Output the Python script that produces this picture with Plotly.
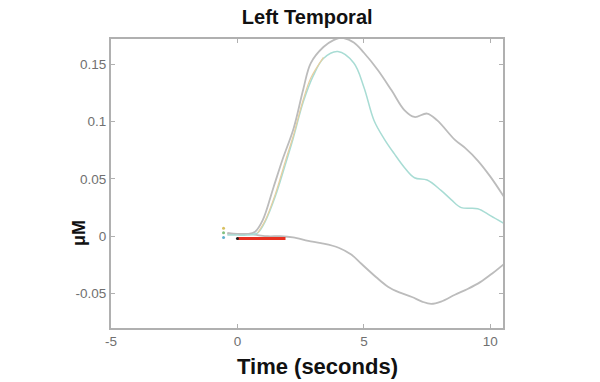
import plotly.graph_objects as go

# Upper bound (gray)
upper_t = [-0.4, 0.0, 0.4, 0.7, 1.0, 1.43, 1.8, 2.22, 2.6, 2.9, 3.4, 3.8, 4.1, 4.6, 5.0, 5.55, 6.1, 6.6, 7.0, 7.5, 7.9, 8.6, 9.0, 9.5, 10.0, 10.55]
upper_v = [0.003, 0.002, 0.002, 0.004, 0.014, 0.043, 0.068, 0.094, 0.128, 0.151, 0.165, 0.171, 0.173, 0.169, 0.160, 0.145, 0.127, 0.110, 0.104, 0.107, 0.101, 0.084, 0.077, 0.066, 0.052, 0.034]

# Mean response (cyan)
mean_t = [-0.4, 0.0, 0.4, 0.8, 1.1, 1.5, 1.9, 2.2, 2.6, 3.0, 3.4, 3.97, 4.6, 5.0, 5.4, 5.8, 6.2, 6.6, 7.0, 7.5, 8.05, 8.45, 8.85, 9.5, 10.0, 10.55]
mean_v = [0.001, 0.001, 0.001, 0.003, 0.013, 0.035, 0.063, 0.085, 0.117, 0.140, 0.155, 0.161, 0.151, 0.130, 0.101, 0.085, 0.072, 0.060, 0.051, 0.049, 0.040, 0.032, 0.025, 0.024, 0.018, 0.011]

# Rising-phase trace (orange)
rise_t = [0.8, 1.1, 1.5, 1.9, 2.2, 2.6, 2.9, 3.4]
rise_v = [0.003, 0.014, 0.037, 0.066, 0.087, 0.119, 0.138, 0.156]

# Lower bound (gray)
lower_t = [-0.4, 0.0, 0.4, 0.8, 1.2, 1.7, 2.2, 2.8, 3.3, 4.0, 4.5, 4.9, 5.5, 5.95, 6.4, 6.9, 7.3, 7.66, 8.05, 8.6, 9.1, 9.6, 10.1, 10.55]
lower_v = [0.002, 0.002, 0.002, 0.001, 0.000, -0.000, -0.001, -0.004, -0.006, -0.010, -0.016, -0.024, -0.036, -0.044, -0.049, -0.053, -0.057, -0.059, -0.057, -0.051, -0.046, -0.040, -0.032, -0.024]

# Stimulus period
stim_t = [0.0, 1.9]
stim_v = [-0.002, -0.002]

# Baseline markers
mark_t = [-0.55, -0.55, -0.55]
mark_v = [0.007, 0.003, -0.001]
mark_c = ["#d8c060", "#80c080", "#60b0d0"]

fig = go.Figure()
gray = "#bcbcbc"
fig.add_trace(go.Scatter(x=upper_t, y=upper_v, mode="lines", line=dict(color=gray, width=1.8, shape="spline"), showlegend=False))
fig.add_trace(go.Scatter(x=lower_t, y=lower_v, mode="lines", line=dict(color=gray, width=1.8, shape="spline"), showlegend=False))
fig.add_trace(go.Scatter(x=mean_t, y=mean_v, mode="lines", line=dict(color="#a8dcd4", width=1.5, shape="spline"), showlegend=False))
fig.add_trace(go.Scatter(x=rise_t, y=rise_v, mode="lines", line=dict(color="#e8cfa0", width=1.2, shape="spline"), showlegend=False))
fig.add_trace(go.Scatter(x=stim_t, y=stim_v, mode="lines", line=dict(color="#e83020", width=3), showlegend=False))
fig.add_trace(go.Scatter(x=stim_t[:1], y=stim_v[:1], mode="markers", marker=dict(color="#202020", size=3), showlegend=False))
fig.add_trace(go.Scatter(x=mark_t, y=mark_v, mode="markers", marker=dict(color=mark_c, size=3), showlegend=False))

axcol = "#b0b0b0"
font = "Liberation Sans, Arial"
fig.update_layout(
    width=600, height=382,
    margin=dict(l=111, r=97, t=39, b=54),
    paper_bgcolor="white", plot_bgcolor="white",
    title=dict(text="<b>Left Temporal</b>", x=0.512, xanchor="center", y=0.955, yanchor="middle",
               font=dict(family=font, size=20, color="#111111")),
    xaxis=dict(range=[-5, 10.5], tickvals=[-5, 0, 5, 10], ticktext=["-5", "0", "5", "10"],
               ticks="inside", ticklen=4, tickcolor=axcol, showline=True, linecolor=axcol, linewidth=2,
               mirror="ticks", showgrid=False, zeroline=False,
               tickfont=dict(family=font, size=13.5, color="#707070")),
    yaxis=dict(range=[-0.08, 0.172], tickvals=[-0.05, 0, 0.05, 0.1, 0.15],
               ticktext=["-0.05", "0", "0.05", "0.1", "0.15"],
               ticks="inside", ticklen=4, tickcolor=axcol, showline=True, linecolor=axcol, linewidth=2,
               mirror="ticks", showgrid=False, zeroline=False,
               tickfont=dict(family=font, size=13.5, color="#707070")),
    annotations=[
        dict(text="<b>Time (seconds)</b>", xref="paper", yref="paper", x=(317 - 111) / 392, y=-(366 - 328) / 289,
             xanchor="center", yanchor="middle", showarrow=False,
             font=dict(family=font, size=22, color="#111111")),
        dict(text="<b>μM</b>", xref="paper", yref="paper", x=-(111 - 79) / 392, y=(328 - 233) / 289,
             xanchor="center", yanchor="middle", showarrow=False, textangle=-90,
             font=dict(family=font, size=18, color="#111111")),
    ],
)

fig.write_html("out.html", config={"displayModeBar": False}, post_script="document.body.style.margin='0';")
